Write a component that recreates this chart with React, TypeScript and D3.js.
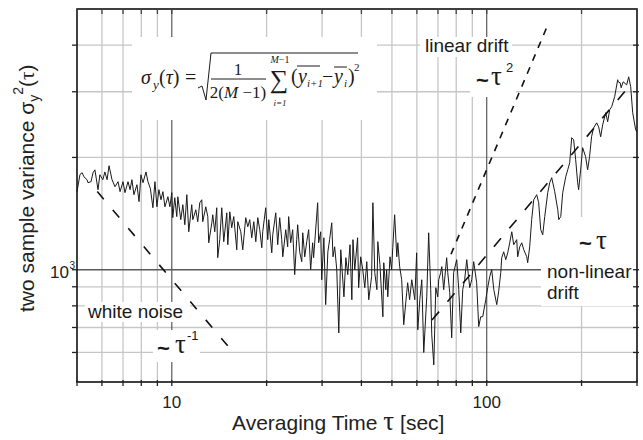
import React from 'react';
import * as d3 from 'd3';

// averaging time tau [s] and two-sample variance
const traceShort: [number, number][] = [
  [5.0, 1620], [5.11, 1800], [5.19, 1820], [5.26, 1775], [5.38, 1743], [5.42, 1711], [5.54, 1722],
  [5.62, 1818], [5.7, 1853], [5.83, 1639], [5.91, 1797], [6.04, 1743], [6.13, 1829], [6.23, 1743],
  [6.32, 1900], [6.46, 1743], [6.6, 1669], [6.75, 1722], [6.85, 1619], [7.0, 1722], [7.1, 1609],
  [7.26, 1722], [7.37, 1639], [7.47, 1743], [7.58, 1589], [7.75, 1690], [7.87, 1522], [7.98, 1797],
  [8.1, 1711], [8.28, 1829], [8.4, 1722], [8.55, 1650], [8.71, 1466], [8.84, 1722], [8.97, 1475],
  [9.1, 1639], [9.24, 1540], [9.37, 1619], [9.51, 1475], [9.72, 1569], [9.86, 1475],
];

const traceMid: [number, number][] = [
  [10.0, 1609], [10.07, 1379], [10.22, 1560], [10.37, 1388], [10.45, 1569], [10.68, 1362], [10.84, 1494],
  [11.0, 1320], [11.16, 1589], [11.32, 1264], [11.57, 1494], [11.66, 1362], [11.92, 1448], [12.09, 1345],
  [12.27, 1512], [12.45, 1540], [12.54, 1345], [12.82, 1475], [13.01, 1388], [13.1, 1181], [13.4, 1336],
  [13.49, 1404], [13.69, 1264], [13.89, 1466], [13.99, 1077], [14.2, 1204], [14.41, 1466], [14.62, 1189],
  [14.95, 1421], [15.06, 1167], [15.28, 1430], [15.5, 1296], [15.73, 1388], [16.08, 1131], [16.2, 1345],
  [16.56, 1264], [16.8, 1131], [17.17, 1379], [17.43, 1304], [17.68, 1362], [17.94, 1218], [18.21, 1345],
  [18.48, 1189], [18.75, 1379], [19.02, 1280], [19.31, 1145], [19.44, 1264], [19.87, 1466], [20.17, 1204],
  [20.32, 1362], [20.77, 1110], [20.92, 1241], [21.38, 1421], [21.69, 1167], [22.01, 1379], [22.34, 1204],
  [22.51, 1083], [23.0, 1280], [23.33, 1152], [23.5, 1388], [23.85, 1181], [24.2, 1280], [24.56, 970],
  [24.92, 1204], [25.1, 1320], [25.47, 1117], [25.86, 1051], [26.05, 1256], [26.43, 1083], [26.82, 1189],
  [27.2, 1280], [27.6, 1000], [28.0, 1181], [28.2, 1077], [29.05, 1512], [29.26, 1181], [29.7, 1264],
  [29.93, 940], [30.4, 1218], [30.8, 806], [31.3, 1117], [31.7, 1204], [32.2, 1336], [32.5, 1083],
  [32.9, 1152], [33.4, 1000], [33.9, 677], [34.4, 1131], [34.7, 1012], [35.2, 846], [35.7, 1077],
  [36.2, 970], [36.8, 1167], [37.3, 831], [37.6, 1204], [38.1, 1000],
];

const traceLong: [number, number][] = [
  [38.9, 1218], [39.2, 895], [39.8, 1083], [40.4, 1000], [41.0, 895], [41.6, 1051], [42.2, 831],
  [43.1, 958], [43.5, 1512], [44.1, 982], [44.8, 884], [45.1, 1189], [45.8, 1031], [46.8, 748],
  [47.1, 1044], [47.8, 884], [48.1, 1000], [48.5, 846], [49.3, 1083], [49.9, 1000], [50.3, 1145],
  [51.0, 1404], [51.8, 1083], [52.2, 1181], [52.9, 1019], [53.7, 940], [54.5, 712], [55.7, 868],
  [56.1, 923], [56.9, 831], [57.8, 940], [59.1, 831], [59.9, 1110], [60.4, 690], [61.3, 831],
  [62.2, 940], [63.1, 600], [64.5, 846], [65.4, 1256], [66.4, 884], [66.9, 669], [67.9, 556],
  [68.9, 895], [69.9, 846], [70.4, 940], [71.4, 982], [72.0, 1019], [73.0, 884], [74.6, 1077],
  [75.2, 982], [76.3, 868], [77.4, 657], [78.5, 982], [80.3, 1064], [81.5, 884], [82.7, 677],
  [83.9, 884], [85.1, 940], [86.4, 1064], [88.3, 895], [89.6, 940], [90.9, 1051], [92.9, 923],
  [94.3, 704], [95.7, 748], [97.1, 748], [99.3, 831],
];

const traceDrift: [number, number][] = [
  [100.7, 895], [102.2, 958], [103.7, 1000], [105.3, 884], [107.6, 806], [109.1, 873], [110.8, 982],
  [111.6, 1077], [113.2, 1117], [114.9, 1064], [116.6, 1110], [118.3, 1181], [120.1, 1264], [121.8, 1167],
  [124.5, 1204], [125.4, 1083], [127.3, 1152], [129.2, 1181], [131.1, 1131], [134.0, 1083], [134.9, 1044],
  [136.9, 1152], [138.9, 1362], [141.0, 1540], [144.1, 1589], [146.2, 1512], [148.4, 1280], [150.6, 1241],
  [152.8, 1388], [156.2, 1609], [158.5, 1711], [160.8, 1765], [164.4, 1619], [168.1, 1448], [169.3, 1362],
  [171.8, 1388], [174.3, 1609], [178.2, 1776], [180.8, 1853], [183.4, 1936], [186.1, 2259], [188.8, 2230],
  [191.6, 1971], [194.4, 1711], [195.8, 1639], [198.7, 1853], [201.6, 2124], [206.0, 2010], [209.1, 1853],
  [212.1, 2010], [215.2, 2272], [218.4, 2400], [223.4, 2476], [226.7, 2415], [230.0, 2272], [233.4, 2445],
  [238.6, 2635], [242.1, 2493], [245.7, 2684], [249.3, 2735], [254.8, 2910], [260.5, 3231], [261.4, 3190],
  [265.3, 3170], [267.2, 3075], [271.2, 3190], [278.2, 3130], [282.3, 3290], [286.5, 3095], [290.7, 2635],
  [297.1, 2372], [300, 2340],
];

// slope guides (end points)
const whiteNoiseFit: [number, number][] = [[5.8, 1620], [15.6, 603]];
const linearDriftFit: [number, number][] = [[77, 1100], [155, 4460]];
const nonLinearDriftFit: [number, number][] = [[67, 733], [285, 3120]];

const xMajor = [10, 100];
const xMinor = [6, 7, 8, 9, 20, 30, 40, 50, 60, 70, 80, 90, 200];
const yMajor = [1000];
const yMinor = [600, 700, 800, 900, 2000, 3000, 4000];
const xTickLabels = ['10', '100'];

const SANS = "'Liberation Sans', Arial, sans-serif";
const SERIF = "'Liberation Serif', 'Times New Roman', serif";

function App() {
  const left = 77, right = 637, top = 9, bottom = 382;

  const x = d3.scaleLog().domain([5, 300]).range([left, right]);
  const y = d3.scaleLog().domain([500, 5000]).range([bottom, top]);

  const line = d3.line<[number, number]>()
    .x(d => x(d[0]))
    .y(d => y(d[1]));

  const trace = [...traceShort, ...traceMid, ...traceLong, ...traceDrift];
  const xTicks = [5, ...xMinor, ...xMajor, 300];
  const yTicks = [...yMinor, ...yMajor];

  // white patches behind the annotations
  const boxes = [
    { x: 132, y: 37, w: 245, h: 83 },
    { x: 420, y: 37, w: 92, h: 20 },
    { x: 470, y: 57, w: 46, h: 40 },
    { x: 541, y: 217, w: 95, h: 89 },
    { x: 85, y: 302, w: 105, h: 20 },
    { x: 153, y: 330, w: 47, h: 32 },
  ];

  return (
    <svg width={643} height={440} style={{ position: 'absolute', left: 0, top: 0, background: '#fff' }}>
      {/* grid */}
      <g>
        {xMinor.map(t => (
          <line key={'gx' + t} x1={x(t)} x2={x(t)} y1={top} y2={bottom} stroke="#c6c6c6" strokeWidth={1.3} />
        ))}
        {yMinor.map(t => (
          <line key={'gy' + t} x1={left} x2={right} y1={y(t)} y2={y(t)} stroke="#c6c6c6" strokeWidth={1.3} />
        ))}
        {xMajor.map(t => (
          <line key={'Gx' + t} x1={x(t)} x2={x(t)} y1={top} y2={bottom} stroke="#4a4a4a" strokeWidth={1.1} />
        ))}
        {yMajor.map(t => (
          <line key={'Gy' + t} x1={left} x2={right} y1={y(t)} y2={y(t)} stroke="#5a5a5a" strokeWidth={1.4} />
        ))}
      </g>

      {boxes.map((b, i) => (
        <rect key={'b' + i} x={b.x} y={b.y} width={b.w} height={b.h} fill="#fff" />
      ))}

      {/* measured trace */}
      <path d={line(trace) || ''} fill="none" stroke="#1a1a1a" strokeWidth={1} strokeLinejoin="round" />

      {/* slope guides */}
      <path d={line(whiteNoiseFit) || ''} fill="none" stroke="#111" strokeWidth={1.6} strokeDasharray="10,14" />
      <path d={line(linearDriftFit) || ''} fill="none" stroke="#111" strokeWidth={1.6} strokeDasharray="7,7" />
      <path d={line(nonLinearDriftFit) || ''} fill="none" stroke="#111" strokeWidth={1.6} strokeDasharray="11,13" />

      {/* frame */}
      <rect x={left} y={top} width={right - left} height={bottom - top} fill="none" stroke="#111" strokeWidth={1.6} />

      {/* ticks */}
      {xTicks.map(t => (
        <g key={'tx' + t}>
          <line x1={x(t)} x2={x(t)} y1={bottom - 2} y2={bottom + 4} stroke="#222" strokeWidth={1.3} />
          <line x1={x(t)} x2={x(t)} y1={top} y2={top + 5} stroke="#444" strokeWidth={1.3} />
        </g>
      ))}
      {yTicks.map(t => (
        <g key={'ty' + t}>
          <line x1={left - 5} x2={left} y1={y(t)} y2={y(t)} stroke="#222" strokeWidth={1.3} />
          <line x1={right - 4} x2={right + 2} y1={y(t)} y2={y(t)} stroke="#222" strokeWidth={1.3} />
        </g>
      ))}

      {/* tick labels */}
      {xMajor.map((t, i) => (
        <text key={'lx' + t} x={x(t)} y={408} textAnchor="middle" fontFamily={SANS} fontSize={17} fill="#222">
          {xTickLabels[i]}
        </text>
      ))}
      <text x={69} y={y(1000) + 8} textAnchor="end" fontFamily={SANS} fontSize={17} fill="#222">10</text>
      <text x={69.5} y={y(1000) - 1} fontFamily={SANS} fontSize={10} fill="#222">3</text>

      {/* axis titles */}
      <text x={232} y={430} fontFamily={SANS} fontSize={21} fill="#222">
        Averaging Time <tspan fontFamily={SERIF} fontSize={27}>τ</tspan> [sec]
      </text>
      <text transform="translate(34,312) rotate(-90)" fontFamily={SANS} fontSize={21} fill="#222">
        two sample variance σ
        <tspan fontSize={14} dy={5}>y</tspan>
        <tspan fontSize={14} dy={-16}>2</tspan>
        <tspan dy={11}>(</tspan>
        <tspan fontFamily={SERIF}>τ</tspan>
        <tspan>)</tspan>
      </text>

      {/* formula */}
      <g fontFamily={SERIF} fill="#1a1a1a">
        <text x={141} y={84} fontSize={20} fontStyle="italic">σ</text>
        <text x={153} y={89} fontSize={13} fontStyle="italic">y</text>
        <text x={159} y={84} fontSize={20}>(<tspan fontStyle="italic">τ</tspan>)</text>
        <text x={185} y={84} fontSize={20}>=</text>
        <path d="M198,88 L202,86 L206,100 L211,53 L358,53" fill="none" stroke="#1a1a1a" strokeWidth={1} />
        <text x={238} y={75} fontSize={17} textAnchor="middle">1</text>
        <line x1={211} x2={266} y1={79} y2={79} stroke="#1a1a1a" strokeWidth={1} />
        <text x={238} y={98} fontSize={17} textAnchor="middle">2(<tspan fontStyle="italic">M</tspan> −1)</text>
        <text x={279} y={88} fontSize={26} textAnchor="middle">∑</text>
        <text x={280} y={63} fontSize={10} textAnchor="middle"><tspan fontStyle="italic">M</tspan>−1</text>
        <text x={280} y={106} fontSize={9} textAnchor="middle" fontStyle="italic">i=1</text>
        <text x={291} y={83} fontSize={20}>(</text>
        <text x={298} y={83} fontSize={20} fontStyle="italic">y</text>
        <text x={307} y={87} fontSize={11} fontStyle="italic">i+1</text>
        <text x={322} y={83} fontSize={20}>−</text>
        <text x={334} y={83} fontSize={20} fontStyle="italic">y</text>
        <text x={344} y={87} fontSize={11} fontStyle="italic">i</text>
        <text x={348} y={83} fontSize={20}>)</text>
        <text x={354} y={71} fontSize={11}>2</text>
        <line x1={297} x2={320} y1={66} y2={66} stroke="#1a1a1a" strokeWidth={1} />
        <line x1={334} x2={347} y1={67} y2={67} stroke="#1a1a1a" strokeWidth={1} />
      </g>

      {/* annotations */}
      <g fill="#1a1a1a">
        <text x={425} y={52} fontFamily={SANS} fontSize={19}>linear drift</text>
        <text x={476} y={88} fontFamily={SANS} fontSize={22} fontWeight="bold">~</text>
        <text x={491} y={85} fontFamily={SERIF} fontSize={27}>τ</text>
        <text x={506} y={72} fontFamily={SANS} fontSize={13}>2</text>

        <text x={579} y={251} fontFamily={SANS} fontSize={22} fontWeight="bold">~</text>
        <text x={596} y={249} fontFamily={SERIF} fontSize={27}>τ</text>
        <text x={547} y={278} fontFamily={SANS} fontSize={19}>non-linear</text>
        <text x={547} y={299} fontFamily={SANS} fontSize={19}>drift</text>

        <text x={88} y={318} fontFamily={SANS} fontSize={19}>white noise</text>
        <text x={157} y={356} fontFamily={SANS} fontSize={22} fontWeight="bold">~</text>
        <text x={175} y={353} fontFamily={SERIF} fontSize={27}>τ</text>
        <text x={187} y={340} fontFamily={SANS} fontSize={13}>-1</text>
      </g>
    </svg>
  );
}

export default App;
